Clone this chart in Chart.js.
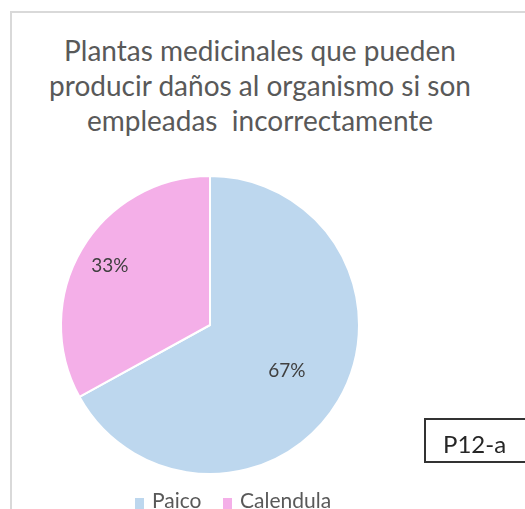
<!DOCTYPE html>
<html>
<head>
<meta charset="utf-8">
<script src="https://cdn.jsdelivr.net/npm/chart.js@4.4.1/dist/chart.umd.min.js"></script>
<style>
  html, body { margin:0; padding:0; background:#fff; overflow:hidden; }
  #wrap { position:relative; width:525px; height:509px; overflow:hidden; }
  #frame { position:absolute; left:10px; top:11px; width:600px; height:600px;
           border-left:2px solid #d9d9d9; border-top:2px solid #d9d9d9; box-sizing:border-box; }
  #title { position:absolute; left:10px; width:500px; top:33px; text-align:center;
           font-family:Lato, "Open Sans", sans-serif; font-size:28px; line-height:35px; color:#595959; }
  #legend { position:absolute; top:0; left:0; width:525px; height:509px;
            font-family:Lato, "Open Sans", sans-serif; font-size:21px; color:#595959; }
  #legend .txt { position:absolute; top:489px; white-space:nowrap; line-height:21px; }
  #legend .sw { position:absolute; top:498px; width:9px; height:11px; }
  #tag { position:absolute; left:424px; top:418px; width:200px; height:45px; box-sizing:border-box;
         border:2px solid #333; font-family:Lato, "Open Sans", sans-serif; font-size:24px; color:#262626;
         padding-left:17px; padding-top:12px; line-height:24px; }
  canvas { position:absolute; left:0; top:0; }
</style>
</head>
<body>
<div id="wrap">
  <div id="frame"></div>
  <div id="title">Plantas medicinales que pueden<br>producir daños al organismo si son<br>empleadas&nbsp; incorrectamente</div>
  <canvas id="c" width="525" height="509"></canvas>
  <div id="tag">P12-a</div>
  <div id="legend"></div>
</div>
<script>
const categories = ["Paico", "Calendula"];
const values = [67, 33];
const colors = ["#BDD7EE", "#F4AFE8"];
const labelRadius = [0.6, 0.78];

const pctLabels = {
  id: 'pctLabels',
  afterDatasetsDraw(chart) {
    const ctx = chart.ctx;
    const meta = chart.getDatasetMeta(0);
    const total = values.reduce((a, b) => a + b, 0);
    ctx.save();
    ctx.font = '19px Lato, "Open Sans", sans-serif';
    ctx.fillStyle = '#404040';
    ctx.textAlign = 'center';
    ctx.textBaseline = 'middle';
    meta.data.forEach((arc, i) => {
      const p = arc.getProps(['x', 'y', 'startAngle', 'endAngle', 'outerRadius'], true);
      const mid = (p.startAngle + p.endAngle) / 2;
      const r = p.outerRadius * labelRadius[i];
      const txt = Math.round(values[i] / total * 100) + '%';
      ctx.fillText(txt, p.x + Math.cos(mid) * r, p.y + Math.sin(mid) * r);
    });
    ctx.restore();
  }
};

new Chart(document.getElementById('c'), {
  type: 'pie',
  data: {
    labels: categories,
    datasets: [{
      data: values,
      backgroundColor: colors,
      borderColor: '#ffffff',
      borderWidth: 2
    }]
  },
  options: {
    responsive: false,
    animation: false,
    layout: { padding: { left: 60, right: 165, top: 175, bottom: 34 } },
    plugins: {
      legend: { display: false },
      title: { display: false },
      tooltip: { enabled: false }
    }
  },
  plugins: [pctLabels]
});

// legend built from the same arrays
const legend = document.getElementById('legend');
const swatchX = [135, 223];
const textX = [152, 240];
categories.forEach((name, i) => {
  const sw = document.createElement('span');
  sw.className = 'sw';
  sw.style.left = swatchX[i] + 'px';
  sw.style.background = colors[i];
  legend.appendChild(sw);
  const t = document.createElement('span');
  t.className = 'txt';
  t.style.left = textX[i] + 'px';
  t.textContent = name;
  legend.appendChild(t);
});
</script>
</body>
</html>
